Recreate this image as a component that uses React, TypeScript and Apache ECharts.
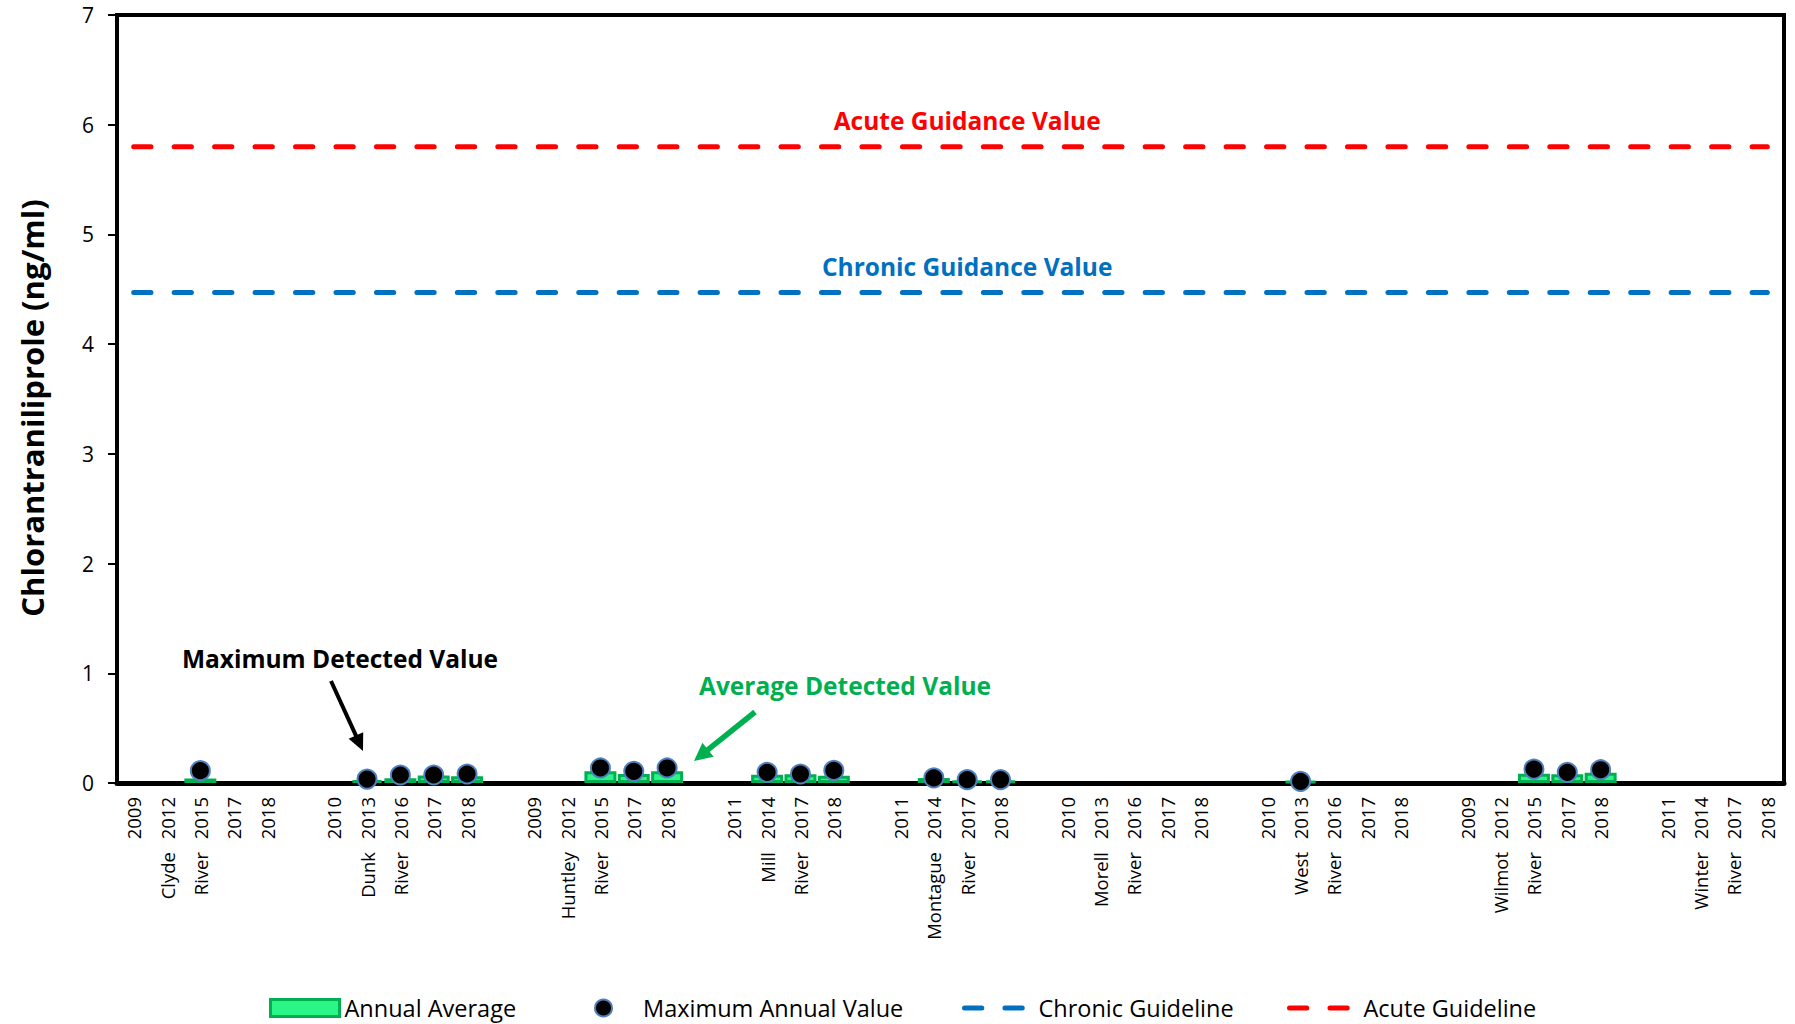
import React, { useEffect, useRef } from "react";
import * as echarts from "echarts";

const FONT = '"Open Sans", "Noto Sans", sans-serif';

const RIVERS = [
  "Clyde River",
  "Dunk River",
  "Huntley River",
  "Mill River",
  "Montague River",
  "Morell River",
  "West River",
  "Wilmot River",
  "Winter River",
];

const SAMPLE_YEARS = [
  [2009, 2012, 2015, 2017, 2018],
  [2010, 2013, 2016, 2017, 2018],
  [2009, 2012, 2015, 2017, 2018],
  [2011, 2014, 2017, 2018],
  [2011, 2014, 2017, 2018],
  [2010, 2013, 2016, 2017, 2018],
  [2010, 2013, 2016, 2017, 2018],
  [2009, 2012, 2015, 2017, 2018],
  [2011, 2014, 2017, 2018],
];

const ANNUAL_AVERAGE = [
  [null, null, 0.041, null, null],
  [null, 0.026, 0.044, 0.068, 0.062],
  [null, null, 0.108, 0.083, 0.108],
  [null, 0.075, 0.08, 0.065],
  [null, 0.045, 0.022, 0.025],
  [null, null, null, null, null],
  [null, 0.017, null, null, null],
  [null, null, 0.084, 0.08, 0.093],
  [null, null, null, null],
];

const MAX_ANNUAL = [
  [null, null, 0.112, null, null],
  [null, 0.036, 0.073, 0.073, 0.082],
  [null, null, 0.137, 0.106, 0.137],
  [null, 0.097, 0.082, 0.115],
  [null, 0.046, 0.03, 0.03],
  [null, null, null, null, null],
  [null, 0.015, null, null, null],
  [null, null, 0.127, 0.097, 0.121],
  [null, null, null, null],
];

const CHRONIC_GUIDELINE = 4.47;
const ACUTE_GUIDELINE = 5.8;

const Y_MIN = 0;
const Y_MAX = 7;
const Y_INTERVAL = 1;

const LEGEND_NAMES = ["Annual Average", "Maximum Annual Value", "Chronic Guideline", "Acute Guideline"];

type Slot = { key: string; year: string; word: string; avg: number | null; max: number | null };

function buildSlots(): Slot[] {
  const slots: Slot[] = [];
  RIVERS.forEach((river, gi) => {
    if (gi > 0) slots.push({ key: `gap-${gi}`, year: "", word: "", avg: null, max: null });
    const words = river.split(" ");
    SAMPLE_YEARS[gi].forEach((y, j) => {
      slots.push({
        key: `${river} ${y}`,
        year: String(y),
        word: j === 1 ? words[0] : j === 2 ? words[1] : "",
        avg: ANNUAL_AVERAGE[gi][j],
        max: MAX_ANNUAL[gi][j],
      });
    });
  });
  return slots;
}

function arrow(x1: number, y1: number, x2: number, y2: number, color: string, width: number, headLen: number, headHalf: number) {
  const dx = x2 - x1;
  const dy = y2 - y1;
  const len = Math.sqrt(dx * dx + dy * dy);
  const ux = dx / len;
  const uy = dy / len;
  const bx = x2 - ux * headLen;
  const by = y2 - uy * headLen;
  const nx = -uy;
  const ny = ux;
  return [
    {
      type: "line",
      silent: true,
      shape: { x1, y1, x2: bx + ux * 2, y2: by + uy * 2 },
      style: { stroke: color, lineWidth: width },
    },
    {
      type: "polygon",
      silent: true,
      shape: {
        points: [
          [x2, y2],
          [bx + nx * headHalf, by + ny * headHalf],
          [bx - nx * headHalf, by - ny * headHalf],
        ],
      },
      style: { fill: color },
    },
  ];
}

export default function App() {
  const ref = useRef<HTMLDivElement>(null);

  useEffect(() => {
    document.body.style.margin = "0";
    if (!ref.current) return;
    const chart = echarts.init(ref.current, null, { renderer: "svg" });
    const slots = buildSlots();
    const keys = slots.map((s) => s.key);
    const mid = Math.floor(slots.length / 2);

    const guideLabel = (text: string, color: string) => ({
      show: true,
      position: "inside",
      offset: [0, -26],
      formatter: text,
      color,
      fontFamily: FONT,
      fontWeight: "bold",
      fontSize: 24.5,
    });

    const legendLefts = [269, 594, 962, 1287];
    const legendItem = (i: number) => {
      const base: any = { name: LEGEND_NAMES[i] };
      if (i === 0) Object.assign(base, { icon: "rect", itemStyle: { borderWidth: 3 } });
      if (i === 1) Object.assign(base, { icon: "circle", itemStyle: { borderWidth: 2 } });
      if (i >= 2) Object.assign(base, { itemStyle: { opacity: 0 } });
      return base;
    };
    const legends = LEGEND_NAMES.map((_, i) => ({
      left: legendLefts[i],
      top: 995,
      padding: 0,
      itemWidth: 69,
      itemHeight: 17,
      textStyle: { fontFamily: FONT, fontSize: 23.5, color: "#000", lineHeight: 26 },
      lineStyle: { width: 5 },
      data: [legendItem(i)],
    }));

    const dash = [17.3, 23.16];

    const option: any = {
      animation: false,
      backgroundColor: "#fff",
      grid: {
        left: 117,
        right: 11,
        top: 15,
        bottom: 241,
        show: true,
        borderColor: "#000",
        borderWidth: 4,
        containLabel: false,
        outerBoundsMode: "none",
      },
      legend: legends,
      xAxis: [
        {
          type: "category",
          data: keys,
          position: "bottom",
          axisLine: { show: true, lineStyle: { color: "#000", width: 5 } },
          axisTick: { show: false },
          axisLabel: {
            interval: 0,
            rotate: 90,
            margin: 14,
            fontFamily: FONT,
            fontSize: 18.5,
            color: "#000",
            formatter: (_v: string, i: number) => slots[i].year,
          },
          splitLine: { show: false },
        },
        {
          type: "category",
          data: keys,
          position: "bottom",
          axisLine: { show: false },
          axisTick: { show: false },
          axisLabel: {
            interval: 0,
            rotate: 90,
            margin: 69,
            fontFamily: FONT,
            fontSize: 18.5,
            color: "#000",
            formatter: (_v: string, i: number) => slots[i].word,
          },
          splitLine: { show: false },
        },
      ],
      yAxis: {
        type: "value",
        min: Y_MIN,
        max: Y_MAX,
        interval: Y_INTERVAL,
        name: "Chlorantraniliprole (ng/ml)",
        nameLocation: "middle",
        nameRotate: 90,
        nameGap: 70,
        nameTextStyle: {
          fontFamily: FONT,
          fontWeight: "bold",
          fontSize: 31,
          color: "#000",
          padding: [0, 18, 0, 0],
        },
        axisLine: { show: true, lineStyle: { color: "#000", width: 4 } },
        axisTick: { show: true, length: 9, lineStyle: { color: "#000", width: 2 } },
        axisLabel: { margin: 23, fontFamily: FONT, fontSize: 21, color: "#000" },
        splitLine: { show: false },
      },
      series: [
        {
          name: LEGEND_NAMES[0],
          type: "bar",
          xAxisIndex: 0,
          barCategoryGap: "4%",
          data: slots.map((s) => s.avg),
          itemStyle: { color: "#2AF587", borderColor: "#00B050", borderWidth: 3 },
          z: 2,
        },
        {
          name: LEGEND_NAMES[1],
          type: "scatter",
          xAxisIndex: 0,
          symbol: "circle",
          symbolSize: 19,
          data: slots.filter((s) => s.max != null).map((s) => [s.key, s.max]),
          itemStyle: { color: "#000", borderColor: "#4F81BD", borderWidth: 2, opacity: 1 },
          z: 4,
        },
        {
          name: LEGEND_NAMES[2],
          type: "line",
          xAxisIndex: 0,
          symbol: "none",
          data: keys.map(() => CHRONIC_GUIDELINE),
          lineStyle: { color: "#0070C0", width: 5, type: dash, cap: "round" },
          itemStyle: { color: "#0070C0" },
          markPoint: {
            symbol: "circle",
            symbolSize: 0,
            silent: true,
            data: [{ coord: [keys[mid], CHRONIC_GUIDELINE] }],
            label: guideLabel("Chronic Guidance Value", "#0070C0"),
          },
          z: 3,
        },
        {
          name: LEGEND_NAMES[3],
          type: "line",
          xAxisIndex: 0,
          symbol: "none",
          data: keys.map(() => ACUTE_GUIDELINE),
          lineStyle: { color: "#FF0000", width: 5, type: dash, cap: "round" },
          itemStyle: { color: "#FF0000" },
          markPoint: {
            symbol: "circle",
            symbolSize: 0,
            silent: true,
            data: [{ coord: [keys[mid], ACUTE_GUIDELINE] }],
            label: guideLabel("Acute Guidance Value", "#FF0000"),
          },
          z: 3,
        },
      ],
      graphic: [
        {
          type: "text",
          x: 340,
          y: 658,
          silent: true,
          style: {
            text: "Maximum Detected Value",
            fill: "#000",
            fontFamily: FONT,
            fontWeight: "bold",
            fontSize: 24.5,
            align: "center",
            verticalAlign: "middle",
            textAlign: "center",
            textVerticalAlign: "middle",
          },
        },
        {
          type: "text",
          x: 845,
          y: 685,
          silent: true,
          style: {
            text: "Average Detected Value",
            fill: "#00B050",
            fontFamily: FONT,
            fontWeight: "bold",
            fontSize: 24.5,
            align: "center",
            verticalAlign: "middle",
            textAlign: "center",
            textVerticalAlign: "middle",
          },
        },
        ...arrow(331, 681, 363, 751, "#000", 4, 17, 8),
        ...arrow(755, 712, 694, 761, "#00B050", 5.5, 18, 9),
      ],
    };

    chart.setOption(option);
    return () => chart.dispose();
  }, []);

  return <div ref={ref} style={{ width: 1795, height: 1024 }} />;
}
